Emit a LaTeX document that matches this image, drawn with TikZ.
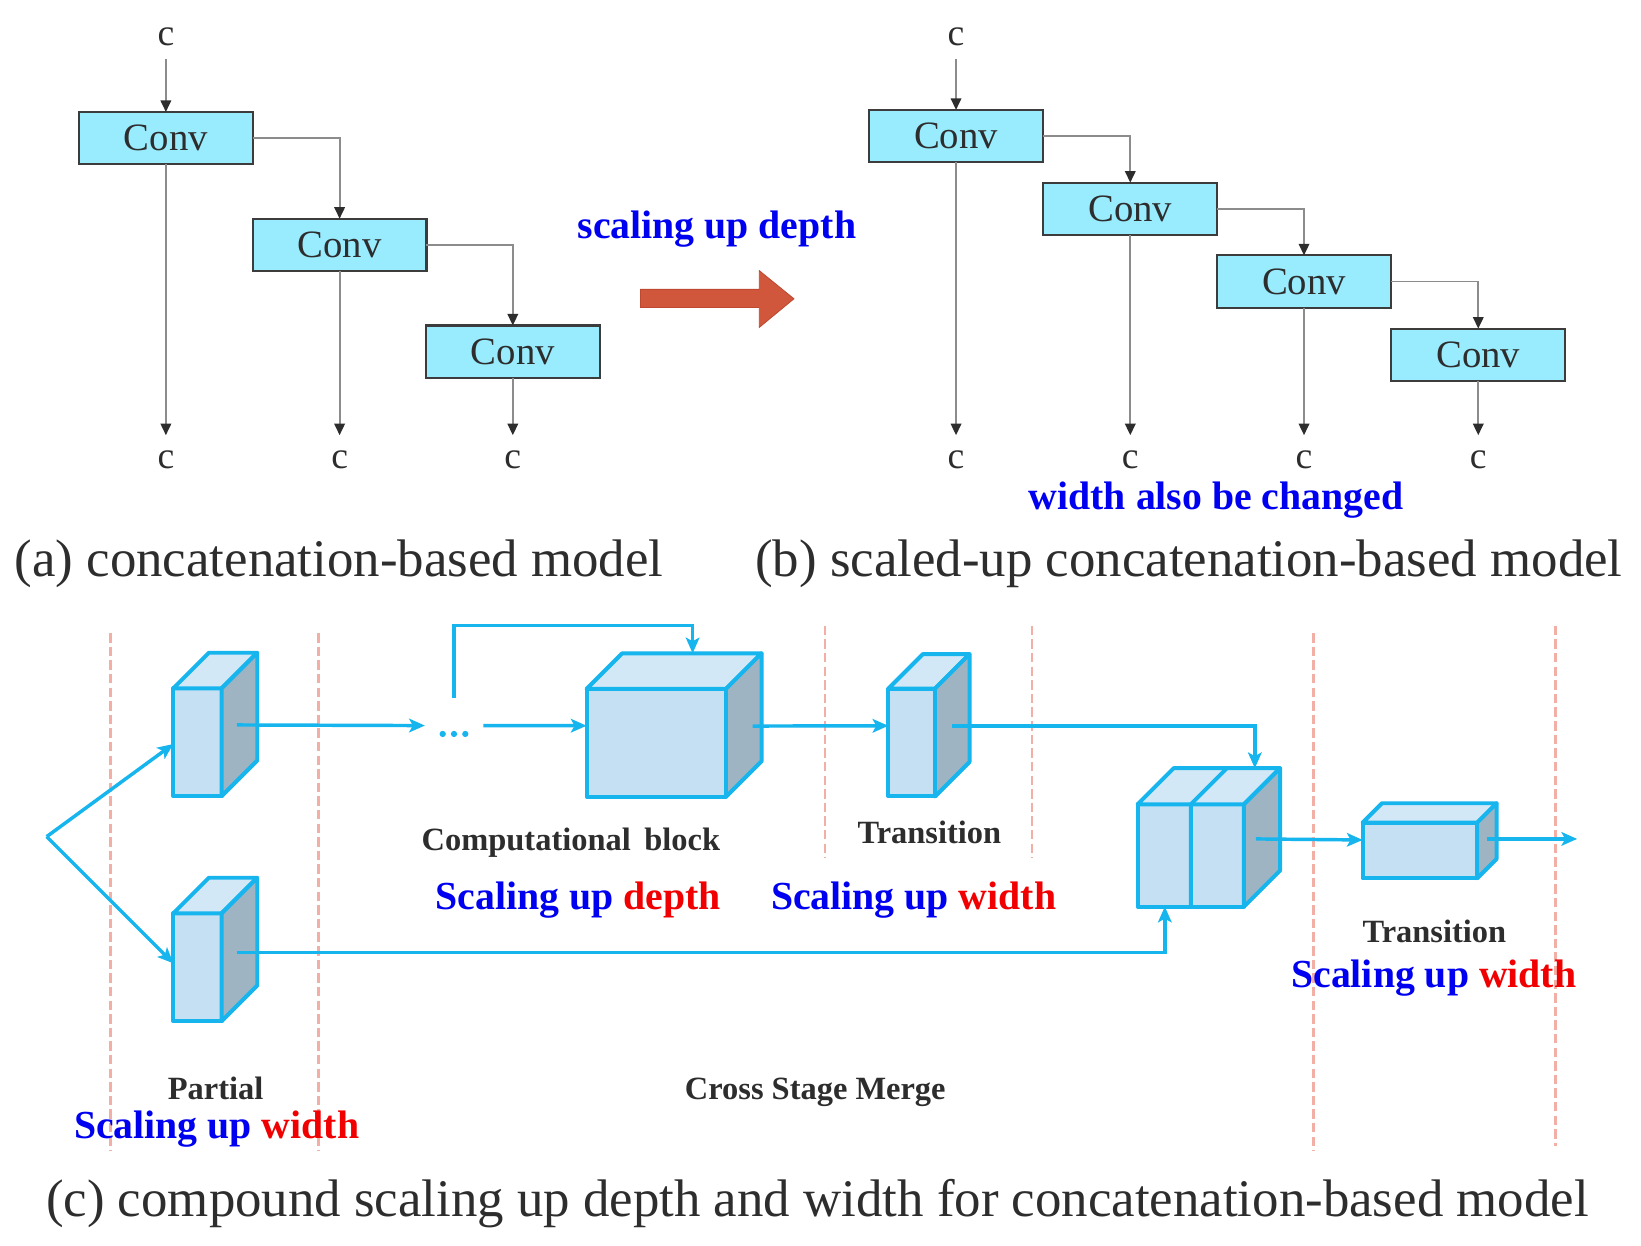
\documentclass[tikz,border=0pt]{standalone}
\usepackage{fontspec}
\setmainfont{Liberation Serif}
\usetikzlibrary{arrows.meta,calc}
\definecolor{convfill}{RGB}{153,235,254}
\definecolor{convdraw}{RGB}{60,60,60}
\definecolor{glinec}{RGB}{140,140,140}
\definecolor{cyanl}{RGB}{23,181,238}
\definecolor{cfront}{RGB}{197,224,242}
\definecolor{ctop}{RGB}{211,232,246}
\definecolor{cside}{RGB}{158,180,195}
\definecolor{dashc}{RGB}{242,175,165}
\definecolor{redarrow}{RGB}{208,87,59}
\definecolor{redarrowd}{RGB}{190,72,48}
\definecolor{lblue}{RGB}{0,0,240}
\definecolor{lred}{RGB}{240,0,0}
\definecolor{dtext}{RGB}{45,45,45}
\newcommand\myfs[1]{\fontsize{#1}{#1}\selectfont}
\newcommand\cubefaces[2]{%
  \path[ctopst] (#1.north west) -- ++(#2,-#2) -- ($(#1.north east)+(#2,-#2)$) -- (#1.north east) -- cycle;
  \path[csidest] (#1.north east) -- ++(#2,-#2) -- ($(#1.south east)+(#2,-#2)$) -- (#1.south east) -- cycle;}
\begin{document}
\begin{tikzpicture}[x=1pt,y=-1pt,
  conv/.style={draw=convdraw, line width=2pt, fill=convfill, minimum width=166pt, minimum height=50pt, inner sep=0pt, outer sep=0pt, font=\myfs{37}, text=dtext},
  cl/.style={inner sep=0pt, outer sep=0pt, font=\myfs{36}, text=dtext},
  gline/.style={draw=glinec, line width=1.8pt, -{Triangle[length=11pt,width=10pt,color=dtext]}},
  cfrontst/.style={draw=cyanl, line width=3.8pt, fill=cfront, inner sep=0pt, outer sep=0pt, line join=round},
  ctopst/.style={draw=cyanl, line width=3.8pt, fill=ctop, line join=round},
  csidest/.style={draw=cyanl, line width=3.8pt, fill=cside, line join=round},
  carrow/.style={draw=cyanl, line width=3.3pt, -{Stealth[length=15pt,width=13pt,inset=3.5pt]}},
  dashln/.style={draw=dashc, line width=2.6pt, dash pattern=on 9pt off 4pt},
  caption/.style={anchor=base, inner sep=0pt, font=\myfs{50.5}, text=dtext},
  blabel/.style={anchor=base, inner sep=0pt, font=\myfs{38}\bfseries, text=lblue},
  glabel/.style={anchor=base, inner sep=0pt, font=\myfs{31}\bfseries, text=dtext}]

\path[use as bounding box, fill=white] (0,0) rectangle (1568,1190);

% ---------------- (a) ----------------
\node[cl] (ca0) at (158.5,35.5) {c};
\node[conv] (a1) at (158.5,132) {Conv};
\node[conv] (a2) at (324.5,234) {Conv};
\node[conv] (a3) at (490,336) {Conv};
\node[cl] (ca1) at (158.5,439.5) {c};
\node[cl] (ca2) at (324.5,439.5) {c};
\node[cl] (ca3) at (490,439.5) {c};
\draw[gline, shorten <=12pt] (ca0.south) -- (a1.north);
\draw[gline] (a1.east) -| (a2.north);
\draw[gline] (a2.east) -| (a3.north);
\draw[gline, shorten >=15pt] (a1.south) -- (ca1.north);
\draw[gline, shorten >=15pt] (a2.south) -- (ca2.north);
\draw[gline, shorten >=15pt] (a3.south) -- (ca3.north);
\node[caption] (capa) at (324,551) {(a) concatenation-based model};

% ---------------- arrow ----------------
\node[blabel] (sud) at (685,228) {scaling up depth};
\filldraw[fill=redarrow, draw=redarrowd, line width=0.8pt, line join=miter]
  (612,276.5) -- (725.5,276.5) -- (725.5,258.6) -- (758.6,285.5) -- (725.5,312.8) -- (725.5,293.8) -- (612,293.8) -- cycle;

% ---------------- (b) ----------------
\node[cl] (cb0) at (913.5,35.5) {c};
\node[conv] (b1) at (913.5,130) {Conv};
\node[conv] (b2) at (1080,199.5) {Conv};
\node[conv] (b3) at (1246,269) {Conv};
\node[conv] (b4) at (1412.5,339) {Conv};
\node[cl] (cb1) at (913.5,439.5) {c};
\node[cl] (cb2) at (1080,439.5) {c};
\node[cl] (cb3) at (1246,439.5) {c};
\node[cl] (cb4) at (1412.5,439.5) {c};
\draw[gline, shorten <=12pt] (cb0.south) -- (b1.north);
\draw[gline] (b1.east) -| (b2.north);
\draw[gline] (b2.east) -| (b3.north);
\draw[gline] (b3.east) -| (b4.north);
\draw[gline, shorten >=15pt] (b1.south) -- (cb1.north);
\draw[gline, shorten >=15pt] (b2.south) -- (cb2.north);
\draw[gline, shorten >=15pt] (b3.south) -- (cb3.north);
\draw[gline, shorten >=15pt] (b4.south) -- (cb4.north);
\node[blabel] (wab) at (1162,487) {width also be changed};
\node[caption] (capb) at (1136,551) {(b) scaled-up concatenation-based model};

% ---------------- (c) ----------------
\draw[dashln] (105.7,605) -- (105.7,1100);
\draw[dashln] (304,605) -- (304,1100);
\draw[dashln] (788.3,598) -- (788.3,820);
\draw[dashln] (986,598) -- (986,820);
\draw[dashln] (1254.8,605) -- (1254.8,1100);
\draw[dashln] (1486,598) -- (1486,1095);

% cubes
\node[cfrontst, minimum width=46.2pt, minimum height=103pt] (p1) at (188.7,709.2) {};
\cubefaces{p1}{34}
\node[cfrontst, minimum width=46.2pt, minimum height=103pt] (p2) at (188.7,924.2) {};
\cubefaces{p2}{34}
\node[cfrontst, minimum width=133.2pt, minimum height=103pt] (cb) at (627.1,709.75) {};
\cubefaces{cb}{34}
\node[cfrontst, minimum width=44.6pt, minimum height=103pt] (t1) at (871.1,709.5) {};
\cubefaces{t1}{33}
\node[cfrontst, minimum width=101.6pt, minimum height=97.8pt] (mg) at (1137.8,817.4) {};
\cubefaces{mg}{34.5}
\draw[cyanl, line width=3.8pt, line join=round] (mg.south) -- (mg.north) -- ++(34.5,-34.5);
\node[cfrontst, minimum width=109.5pt, minimum height=53.2pt] (t2) at (1356.75,812.6) {};
\cubefaces{t2}{18.5}

% connectors
\coordinate (sp) at (44.6,799.4);
\coordinate (dts) at (433.8,701.3);
\fill[cyanl] (dts) circle (3pt) ($(dts)+(-10.8,0)$) circle (3pt) ($(dts)+(10.8,0)$) circle (3pt);
\draw[carrow, line join=miter] (sp) -- ($(p1.west)+(0,1.7)$);
\draw[carrow] (sp) -- ($(p2.west)+(0,-3.8)$);
\draw[carrow] ($(p1.east)+(14.5,-16.5)$) -- ($(dts)+(-27.8,-8)$);
\draw[carrow] ($(dts)+(28,-8)$) -- ($(cb.west)+(0,-16.3)$);
\draw[carrow] ($(dts)+(0,-34)$) -- ++(0,-69.5) -| ($(cb.north)+(34.7,-34)$);
\draw[carrow] ($(cb.east)+(25.5,-16)$) -- ($(t1.west)+(0,-16)$);
\draw[carrow] ($(t1.east)+(16,-16)$) -| ($(mg.north)+(61.2,-34.5)$);
\draw[carrow] ($(p2.east)+(14.5,-14.2)$) -| ($(mg.south)+(-24.8,0)$);
\draw[carrow] ($(mg.east)+(11.4,-15.8)$) -- ($(t2.west)+(0,-10)$);
\draw[carrow] ($(t2.east)+(9,-11)$) -- ($(t2.east)+(95.5,-11)$);

% labels
\node[glabel] (lcb) at (545.5,813) {Computational\, block};
\node[glabel] (ltr1) at (888,806) {Transition};
\node[blabel] (sd1) at (552.5,869) {Scaling up \textcolor{lred}{depth}};
\node[blabel] (sw1) at (873,869) {Scaling up \textcolor{lred}{width}};
\node[glabel] (ltr2) at (1370.5,901) {Transition};
\node[blabel] (sw2) at (1370,944) {Scaling up \textcolor{lred}{width}};
\node[glabel] (lpa) at (206,1051) {Partial};
\node[blabel] (sw3) at (207,1088) {Scaling up \textcolor{lred}{width}};
\node[glabel] (lcsm) at (779,1051) {Cross Stage Merge};
\node[caption] (capc) at (781,1162) {(c) compound scaling up depth and width for concatenation-based model};
\end{tikzpicture}
\end{document}
